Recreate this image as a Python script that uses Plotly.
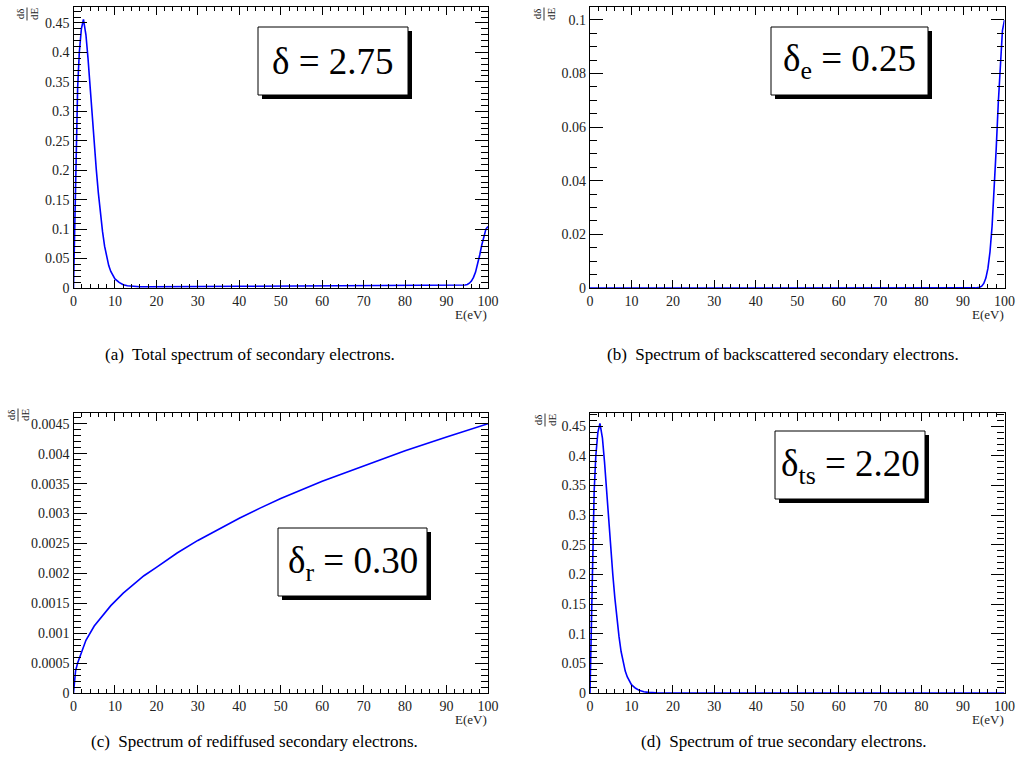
import plotly.graph_objects as go

W, H = 1016, 780

# ---------------- data ----------------
E_tot = [0, 0.1, 0.25, 0.5, 0.7, 1, 1.4, 1.9, 2.4, 3, 3.5, 4, 4.5, 5, 5.5, 6, 6.5, 7, 7.5, 8, 8.5, 9,
         10, 11, 12, 13, 14, 16, 18, 20, 25, 30, 40, 50, 60, 70, 80, 90, 92, 93, 94, 94.5, 95, 95.5,
         96, 96.5, 97, 97.5, 98, 98.5, 99, 99.5, 100]
dN_tot = [0, 0.04, 0.1, 0.2, 0.28, 0.34, 0.40, 0.44, 0.456, 0.43, 0.39, 0.34, 0.29, 0.246, 0.201,
          0.161, 0.126, 0.096, 0.071, 0.051, 0.038, 0.028, 0.0155, 0.0095, 0.0056, 0.0037, 0.0028,
          0.0022, 0.0022, 0.0021, 0.0023, 0.0025, 0.0029, 0.0032, 0.0035, 0.0038, 0.0040, 0.0043,
          0.0044, 0.0044, 0.0047, 0.0051, 0.0061, 0.0081, 0.0117, 0.018, 0.027, 0.040, 0.056,
          0.073, 0.089, 0.100, 0.1045]

E_e = [0, 50, 90, 92, 93, 94, 94.5, 95, 95.5, 96, 96.5, 97, 97.5, 98, 98.5, 99, 99.5, 100]
dN_e = [0, 0, 0, 0, 0.00003, 0.0003, 0.0007, 0.0017, 0.0037, 0.0073, 0.0135, 0.023, 0.036, 0.052,
        0.069, 0.085, 0.096, 0.1]

E_r = [0, 0.25, 0.5, 1, 2, 3, 5, 7, 9, 12, 15, 17, 20, 25, 30, 35, 40, 45, 50, 60, 70, 80, 90, 100]
dN_r = [0, 0.00025, 0.00037, 0.0005, 0.0007, 0.00088, 0.00112, 0.0013, 0.00146, 0.00167, 0.00185,
        0.00196, 0.0021, 0.00234, 0.00255, 0.00274, 0.00292, 0.00309, 0.00325, 0.00354, 0.0038,
        0.00405, 0.00428, 0.0045]

E_ts = [0, 0.1, 0.25, 0.5, 0.7, 1, 1.4, 1.9, 2.4, 3, 3.5, 4, 4.5, 5, 5.5, 6, 6.5, 7, 7.5, 8, 8.5, 9,
        10, 11, 12, 13, 14, 16, 18, 20, 30, 50, 100]
dN_ts = [0, 0.04, 0.1, 0.2, 0.28, 0.34, 0.40, 0.44, 0.455, 0.43, 0.39, 0.34, 0.29, 0.245, 0.2,
         0.16, 0.125, 0.095, 0.07, 0.05, 0.037, 0.027, 0.014, 0.008, 0.004, 0.002, 0.001, 0.0003,
         0.0001, 0, 0, 0, 0]

x_ticks = [0, 10, 20, 30, 40, 50, 60, 70, 80, 90, 100]
x_ticktext = ["0", "10", "20", "30", "40", "50", "60", "70", "80", "90", "100"]
y_ticks_big = [0, 0.05, 0.1, 0.15, 0.2, 0.25, 0.3, 0.35, 0.4, 0.45]
y_text_big = ["0", "0.05", "0.1", "0.15", "0.2", "0.25", "0.3", "0.35", "0.4", "0.45"]
y_ticks_e = [0, 0.02, 0.04, 0.06, 0.08, 0.1]
y_text_e = ["0", "0.02", "0.04", "0.06", "0.08", "0.1"]
y_ticks_r = [0, 0.0005, 0.001, 0.0015, 0.002, 0.0025, 0.003, 0.0035, 0.004, 0.0045]
y_text_r = ["0", "0.0005", "0.001", "0.0015", "0.002", "0.0025", "0.003", "0.0035", "0.004", "0.0045"]

labels = ["δ = 2.75", "δ<sub>e</sub> = 0.25", "δ<sub>r</sub> = 0.30", "δ<sub>ts</sub> = 2.20"]
captions = ["(a)  Total spectrum of secondary electrons.",
            "(b)  Spectrum of backscattered secondary electrons.",
            "(c)  Spectrum of rediffused secondary electrons.",
            "(d)  Spectrum of true secondary electrons."]

# ---------------- layout helpers ----------------
FONT = "Liberation Serif"


def px(x):
    return x / W


def py(y):
    return 1 - y / H


boxes = [(73.5, 6.5, 488, 288), (590, 6.5, 1004.5, 288), (73.5, 413, 488, 693), (590, 413, 1004.5, 693)]
yranges = [[0, 0.478], [0, 0.105], [0, 0.00468], [0, 0.4725]]
yticks = [(y_ticks_big, y_text_big, 0.01), (y_ticks_e, y_text_e, 0.005),
          (y_ticks_r, y_text_r, 0.0001), (y_ticks_big, y_text_big, 0.01)]
series = [(E_tot, dN_tot), (E_e, dN_e), (E_r, dN_r), (E_ts, dN_ts)]
label_boxes = [(258, 27, 408, 95), (771, 27, 928, 95), (278, 528, 427, 596), (775, 431, 925, 499)]
ytitle_pos = [(27, 14), (544, 14), (18, 415), (545, 420)]
caption_pos = [(250, 355), (783, 355), (254, 741), (784, 741)]

fig = go.Figure()
layout = dict(width=W, height=H, margin=dict(l=0, r=0, t=0, b=0, autoexpand=False),
              paper_bgcolor="white", plot_bgcolor="white", showlegend=False,
              font=dict(family=FONT, color="black"))
shapes = []
annotations = []

for i in range(4):
    n = "" if i == 0 else str(i + 1)
    x0, y0, x1, y1 = boxes[i]
    E, v = series[i]
    fig.add_trace(go.Scatter(x=E, y=v, mode="lines", xaxis="x" + n, yaxis="y" + n,
                             line=dict(color="#0000ff", width=1.6), hoverinfo="skip"))
    yt, ytt, ymin = yticks[i]
    layout["xaxis" + n] = dict(
        domain=[px(x0), px(x1)], anchor="y" + n, range=[0, 100], automargin=False,
        tickmode="array", tickvals=x_ticks, ticktext=x_ticktext,
        ticks="inside", ticklen=8, tickwidth=1, tickcolor="black",
        minor=dict(dtick=2, tick0=0, ticks="inside", ticklen=4, tickwidth=1, tickcolor="black"),
        showline=True, linecolor="black", linewidth=1.3, mirror="ticks",
        showgrid=False, zeroline=False, fixedrange=True,
        tickfont=dict(family=FONT, size=14, color="#222"))
    layout["yaxis" + n] = dict(
        domain=[py(y1), py(y0)], anchor="x" + n, range=yranges[i], automargin=False,
        tickmode="array", tickvals=yt, ticktext=ytt,
        ticks="inside", ticklen=13, tickwidth=1.2, tickcolor="black",
        minor=dict(dtick=ymin, tick0=0, ticks="inside", ticklen=7, tickwidth=1, tickcolor="black"),
        showline=True, linecolor="black", linewidth=1.3, mirror="ticks",
        showgrid=False, zeroline=False, fixedrange=True,
        tickfont=dict(family=FONT, size=14, color="#222"))

    annotations.append(dict(text="E(eV)", x=px(x1 + 1), y=py(y1 + 26), xref="paper", yref="paper",
                            xanchor="right", yanchor="middle", showarrow=False,
                            font=dict(family=FONT, size=13, color="#222")))
    tx, ty = ytitle_pos[i]
    annotations.append(dict(text="dδ<br>dE", x=px(tx), y=py(ty), xref="paper", yref="paper",
                            xanchor="center", yanchor="middle", showarrow=False, textangle=-90,
                            font=dict(family=FONT, size=11, color="#222")))
    shapes.append(dict(type="line", xref="paper", yref="paper", x0=px(tx), x1=px(tx),
                       y0=py(ty - 6.5), y1=py(ty + 6.5), line=dict(color="black", width=0.8)))

    bx0, by0, bx1, by1 = label_boxes[i]
    shapes.append(dict(type="rect", xref="paper", yref="paper", layer="above",
                       x0=px(bx0 + 4), x1=px(bx1 + 4), y0=py(by1 + 4), y1=py(by0 + 4),
                       fillcolor="black", line=dict(width=0)))
    shapes.append(dict(type="rect", xref="paper", yref="paper", layer="above",
                       x0=px(bx0), x1=px(bx1), y0=py(by1), y1=py(by0),
                       fillcolor="white", line=dict(color="black", width=1)))
    annotations.append(dict(text=labels[i], x=px((bx0 + bx1) / 2), y=py((by0 + by1) / 2 + 1),
                            xref="paper", yref="paper", xanchor="center", yanchor="middle",
                            showarrow=False, font=dict(family=FONT, size=37, color="black")))
    cx, cy = caption_pos[i]
    annotations.append(dict(text=captions[i], x=px(cx), y=py(cy), xref="paper", yref="paper",
                            xanchor="center", yanchor="middle", showarrow=False,
                            font=dict(family=FONT, size=17, color="black")))

layout["shapes"] = shapes
layout["annotations"] = annotations
fig.update_layout(**layout)
fig.write_html("out.html", config={"displayModeBar": False},
               post_script="document.body.style.margin='0';document.body.style.overflow='hidden';")
